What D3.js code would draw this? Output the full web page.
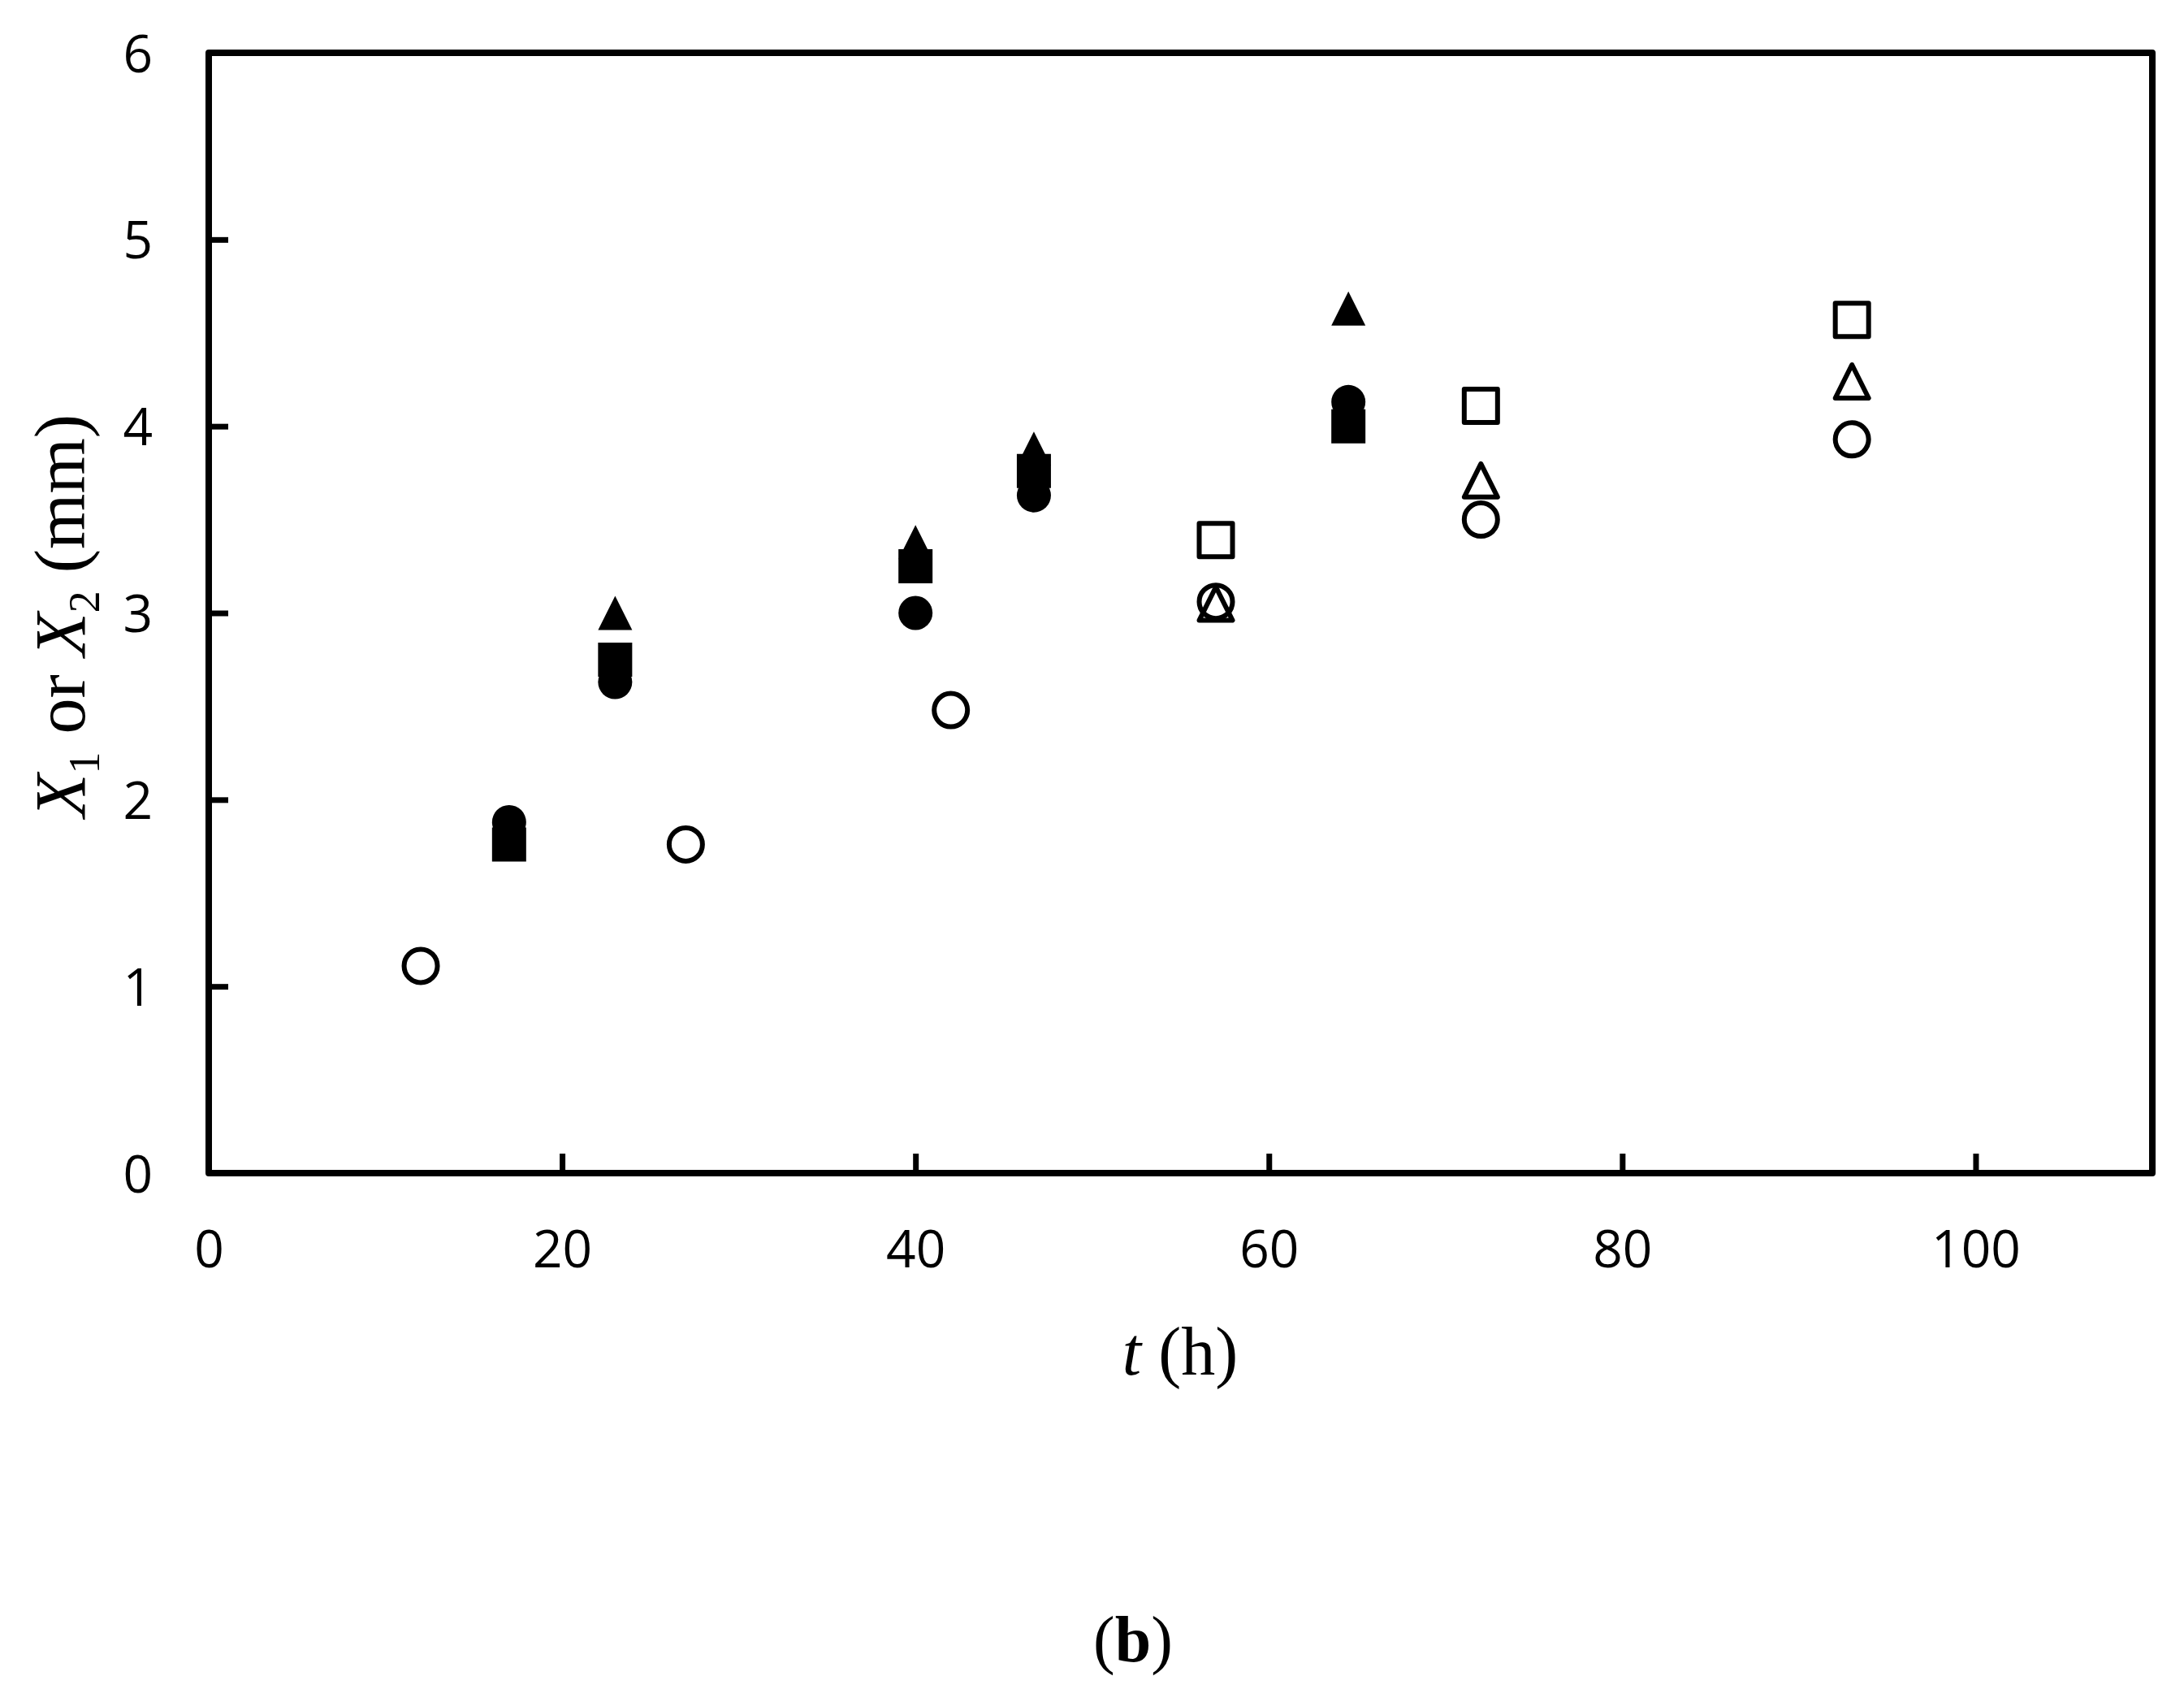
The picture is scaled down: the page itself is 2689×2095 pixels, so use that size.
<!DOCTYPE html>
<html>
<head>
<meta charset="utf-8">
<script src="https://cdnjs.cloudflare.com/ajax/libs/d3/7.8.5/d3.min.js"></script>
<style>
  html, body { margin:0; padding:0; background:#fff; }
  svg { display:block; }
</style>
</head>
<body>
<svg id="chart" width="2689" height="2095"></svg>
<script>
// filled markers, sampled at these times
var tFilled = [17, 23, 40, 46.7, 64.5];
var filledCircle = [1.88, 2.63, 3.00, 3.63, 4.13];
var filledSquare = [1.76, 2.75, 3.25, 3.76, 4.00];
var filledTriangle = [null, 3.00, 3.38, 3.88, 4.63];

// open markers
var tOpenCircle = [12, 27, 42, 57, 72, 93];
var openCircle = [1.11, 1.76, 2.48, 3.06, 3.50, 3.93];
var tOpen = [57, 72, 93];
var openSquare = [3.39, 4.11, 4.57];
var openTriangle = [3.05, 3.71, 4.24];

var xTicks = [0, 20, 40, 60, 80, 100];
var yTicks = [0, 1, 2, 3, 4, 5, 6];

(function () {
  var svg = d3.select("#chart");
  var left = 257, right = 2650, top = 65, bottom = 1444;

  var x = d3.scaleLinear().domain([0, 110]).range([left, right]);
  var y = d3.scaleLinear().domain([0, 6]).range([bottom, top]);

  svg.append("rect").attr("width", 2689).attr("height", 2095).attr("fill", "#fff");

  // symbols sized by their bounding box side (size = side^2)
  var boxSquare = { draw: function (c, size) { var s = Math.sqrt(size); c.rect(-s / 2, -s / 2, s, s); } };
  var boxTriangle = { draw: function (c, size) {
    var s = Math.sqrt(size);
    c.moveTo(0, -s / 2); c.lineTo(s / 2, s / 2); c.lineTo(-s / 2, s / 2); c.closePath();
  } };
  var boxCircle = { draw: function (c, size) { var r = Math.sqrt(size) / 2; c.moveTo(r, 0); c.arc(0, 0, r, 0, 2 * Math.PI); } };

  // axes, ticks pointing inward
  var gx = svg.append("g")
    .attr("transform", "translate(0," + bottom + ")")
    .call(d3.axisBottom(x).tickValues(xTicks).tickSize(-24).tickPadding(71).tickFormat(d3.format("d")));
  var gy = svg.append("g")
    .attr("transform", "translate(" + left + ",0)")
    .call(d3.axisLeft(y).tickValues(yTicks).tickSize(-24).tickPadding(69).tickFormat(d3.format("d")));

  [gx, gy].forEach(function (g) {
    g.select(".domain").remove();
    g.selectAll(".tick line").attr("stroke", "#000").attr("stroke-width", 7);
    g.selectAll(".tick text")
      .attr("fill", "#000")
      .style("font-family", "'Open Sans', sans-serif")
      .style("font-size", "64px");
  });
  gy.selectAll(".tick text").attr("dy", "0.36em");

  // plot frame
  svg.append("rect")
    .attr("x", left).attr("y", top)
    .attr("width", right - left).attr("height", bottom - top)
    .attr("fill", "none")
    .attr("stroke", "#000")
    .attr("stroke-width", 8)
    .attr("stroke-linejoin", "round");

  function series(ts, vals, type, size, filled) {
    var pts = ts.map(function (t, i) { return { t: t, v: vals[i] }; })
      .filter(function (d) { return d.v !== null; });
    svg.append("g").selectAll("path")
      .data(pts)
      .enter().append("path")
      .attr("transform", function (d) { return "translate(" + x(d.t) + "," + y(d.v) + ")"; })
      .attr("d", d3.symbol().type(type).size(size))
      .attr("fill", filled ? "#000" : "none")
      .attr("stroke", filled ? "none" : "#000")
      .attr("stroke-width", filled ? 0 : 6)
      .attr("stroke-linejoin", "round");
  }

  series(tOpenCircle, openCircle, boxCircle, 41 * 41, false);
  series(tOpen, openTriangle, boxTriangle, 41 * 41, false);
  series(tOpen, openSquare, boxSquare, 41 * 41, false);
  series(tFilled, filledCircle, boxCircle, 42 * 42, true);
  series(tFilled, filledSquare, boxSquare, 42 * 42, true);
  series(tFilled, filledTriangle, boxTriangle, 42 * 42, true);

  // axis titles
  var xt = svg.append("text")
    .attr("x", 1453).attr("y", 1692)
    .attr("text-anchor", "middle")
    .style("font-family", "'Liberation Serif', serif")
    .style("font-size", "84px");
  xt.append("tspan").style("font-style", "italic").text("t");
  xt.append("tspan").text(" (h)");

  var yt = svg.append("text")
    .attr("transform", "translate(104,758) rotate(-90)")
    .attr("text-anchor", "middle")
    .style("font-family", "'Liberation Serif', serif")
    .style("font-size", "88px");
  yt.append("tspan").style("font-style", "italic").text("X");
  yt.append("tspan").attr("dy", 18).style("font-size", "54px").text("1");
  yt.append("tspan").attr("dy", -18).text(" or ");
  yt.append("tspan").style("font-style", "italic").text("X");
  yt.append("tspan").attr("dy", 18).style("font-size", "54px").text("2");
  yt.append("tspan").attr("dy", -18).text(" (mm)");

  var cap = svg.append("text")
    .attr("x", 1395).attr("y", 2045)
    .attr("text-anchor", "middle")
    .style("font-family", "'Liberation Serif', serif")
    .style("font-size", "80px");
  cap.append("tspan").text("(");
  cap.append("tspan").style("font-weight", "bold").text("b");
  cap.append("tspan").text(")");
})();
</script>
</body>
</html>
